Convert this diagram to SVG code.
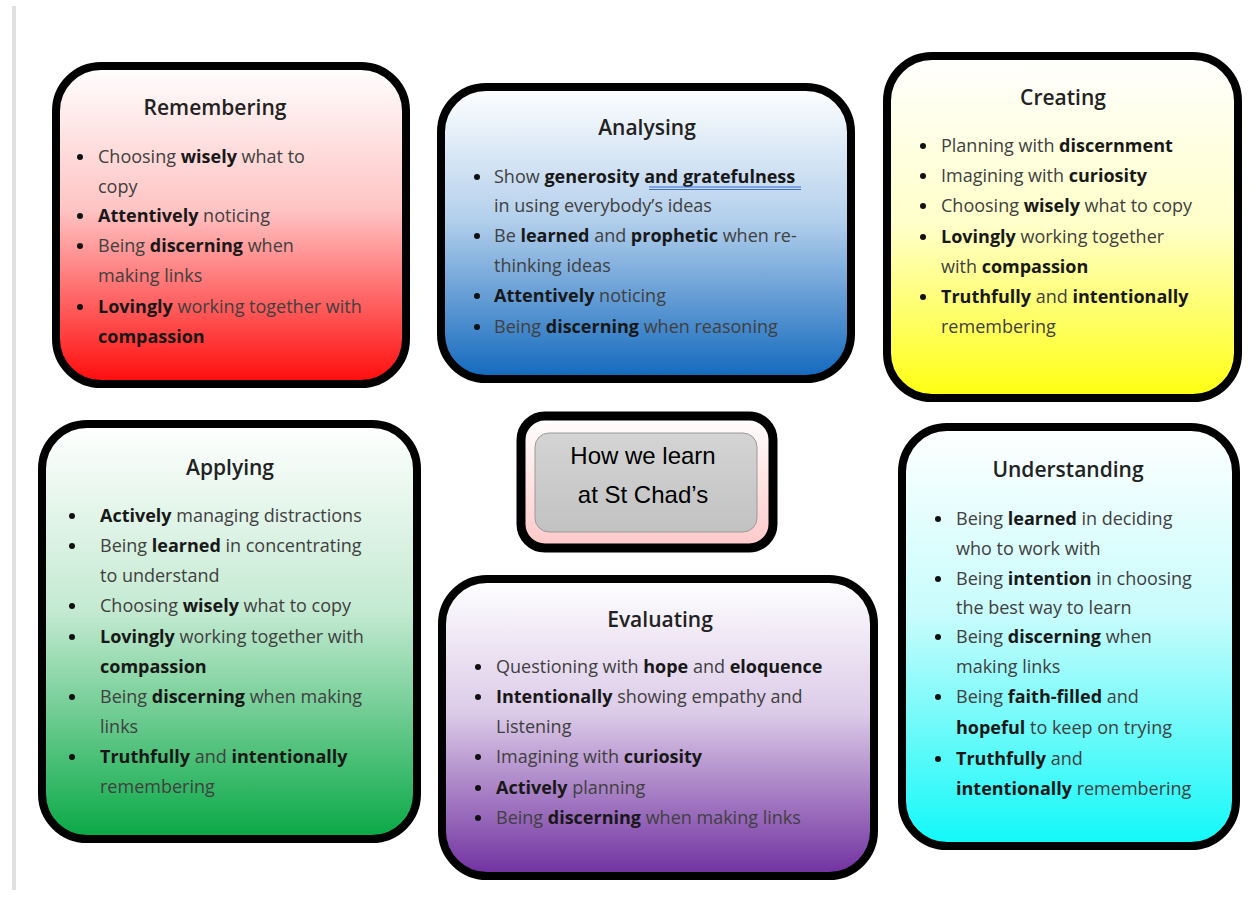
<svg xmlns="http://www.w3.org/2000/svg" width="1257" height="897" viewBox="0 0 1257 897">
<defs>
<linearGradient id="gRed" x1="0" y1="0" x2="0" y2="1"><stop offset="0" stop-color="#ffffff"/><stop offset="0.45" stop-color="#ffc4c4"/><stop offset="1" stop-color="#ff0a0a"/></linearGradient>
<linearGradient id="gBlue" x1="0" y1="0" x2="0" y2="1"><stop offset="0" stop-color="#ffffff"/><stop offset="0.45" stop-color="#b4d0ec"/><stop offset="1" stop-color="#1268bd"/></linearGradient>
<linearGradient id="gYellow" x1="0" y1="0" x2="0" y2="1"><stop offset="0" stop-color="#ffffff"/><stop offset="0.5" stop-color="#ffffc8"/><stop offset="1" stop-color="#ffff10"/></linearGradient>
<linearGradient id="gGreen" x1="0" y1="0" x2="0" y2="1"><stop offset="0" stop-color="#ffffff"/><stop offset="0.45" stop-color="#c4ead2"/><stop offset="1" stop-color="#08a845"/></linearGradient>
<linearGradient id="gPurple" x1="0" y1="0" x2="0" y2="1"><stop offset="0" stop-color="#ffffff"/><stop offset="0.45" stop-color="#dccbe8"/><stop offset="1" stop-color="#7030a0"/></linearGradient>
<linearGradient id="gCyan" x1="0" y1="0" x2="0" y2="1"><stop offset="0" stop-color="#ffffff"/><stop offset="0.45" stop-color="#c8fcfc"/><stop offset="1" stop-color="#10f8f8"/></linearGradient>
<linearGradient id="gPink" x1="0" y1="0" x2="0" y2="1"><stop offset="0" stop-color="#ffffff"/><stop offset="1" stop-color="#ffc8c8"/></linearGradient>
<linearGradient id="gGray" x1="0" y1="0" x2="0" y2="1"><stop offset="0" stop-color="#d4d4d4"/><stop offset="1" stop-color="#c2c2c2"/></linearGradient>
</defs>
<style>
.box{stroke:#000;stroke-width:8}
.t{font-family:"Open Sans","Noto Sans","DejaVu Sans",sans-serif;font-size:21px;fill:#222;text-anchor:middle;font-weight:600}
.b{font-family:"Open Sans","Noto Sans","DejaVu Sans",sans-serif;font-size:18px;fill:#404040}
.s{font-weight:700;fill:#181818}
.dot{fill:#111}
.c{font-family:"Liberation Sans","Open Sans",sans-serif;font-size:24px;fill:#000;text-anchor:middle}
</style>
<rect width="1257" height="897" fill="#ffffff"/>
<rect x="12" y="6" width="4" height="884" fill="#e0e0e0"/>
<g id="connectors"/>

<g id="remembering">
<rect class="box" x="56" y="66" width="350" height="318" rx="45" fill="url(#gRed)"/>
<text class="t" x="215" y="115">Remembering</text>
<circle class="dot" cx="80" cy="157" r="3"/><circle class="dot" cx="80" cy="216" r="3"/><circle class="dot" cx="80" cy="246" r="3"/><circle class="dot" cx="80" cy="307" r="3"/>
<text class="b" x="98" y="163">Choosing <tspan class="s">wisely</tspan> what to</text>
<text class="b" x="98" y="193">copy</text>
<text class="b" x="98" y="222"><tspan class="s">Attentively</tspan> noticing</text>
<text class="b" x="98" y="252">Being <tspan class="s">discerning</tspan> when</text>
<text class="b" x="98" y="282">making links</text>
<text class="b" x="98" y="313"><tspan class="s">Lovingly</tspan> working together with</text>
<text class="b" x="98" y="343"><tspan class="s">compassion</tspan></text>
</g>

<g id="analysing">
<rect class="box" x="441" y="87" width="410" height="292" rx="45" fill="url(#gBlue)"/>
<text class="t" x="647" y="135">Analysing</text>
<circle class="dot" cx="477" cy="177" r="3"/><circle class="dot" cx="477" cy="236" r="3"/><circle class="dot" cx="477" cy="296" r="3"/><circle class="dot" cx="477" cy="327" r="3"/>
<text class="b" x="494" y="183">Show <tspan class="s">generosity</tspan> <tspan class="s">and  gratefulness</tspan></text>
<line x1="649" y1="187" x2="801" y2="187" stroke="#3b6fd6" stroke-width="1.2"/>
<line x1="649" y1="189.5" x2="801" y2="189.5" stroke="#3b6fd6" stroke-width="1.2"/>
<text class="b" x="494" y="212">in using everybody’s ideas</text>
<text class="b" x="494" y="242">Be <tspan class="s">learned</tspan> and <tspan class="s">prophetic</tspan> when re-</text>
<text class="b" x="494" y="272">thinking ideas</text>
<text class="b" x="494" y="302"><tspan class="s">Attentively</tspan> noticing</text>
<text class="b" x="494" y="333">Being <tspan class="s">discerning</tspan> when reasoning</text>
</g>

<g id="creating">
<rect class="box" x="887" y="56" width="351" height="342" rx="45" fill="url(#gYellow)"/>
<text class="t" x="1063" y="105">Creating</text>
<circle class="dot" cx="923" cy="146" r="3"/><circle class="dot" cx="923" cy="176" r="3"/><circle class="dot" cx="923" cy="206" r="3"/><circle class="dot" cx="923" cy="237" r="3"/><circle class="dot" cx="923" cy="297" r="3"/>
<text class="b" x="941" y="152">Planning with <tspan class="s">discernment</tspan></text>
<text class="b" x="941" y="182">Imagining with <tspan class="s">curiosity</tspan></text>
<text class="b" x="941" y="212">Choosing <tspan class="s">wisely</tspan> what to copy</text>
<text class="b" x="941" y="243"><tspan class="s">Lovingly</tspan> working together</text>
<text class="b" x="941" y="273">with <tspan class="s">compassion</tspan></text>
<text class="b" x="941" y="303"><tspan class="s">Truthfully</tspan> and <tspan class="s">intentionally</tspan></text>
<text class="b" x="941" y="333">remembering</text>
</g>

<g id="applying">
<rect class="box" x="42" y="424" width="375" height="415" rx="45" fill="url(#gGreen)"/>
<text class="t" x="230" y="475">Applying</text>
<circle class="dot" cx="72" cy="516" r="3"/><circle class="dot" cx="72" cy="546" r="3"/><circle class="dot" cx="72" cy="606" r="3"/><circle class="dot" cx="72" cy="637" r="3"/><circle class="dot" cx="72" cy="697" r="3"/><circle class="dot" cx="72" cy="757" r="3"/>
<text class="b" x="100" y="522"><tspan class="s">Actively</tspan> managing distractions</text>
<text class="b" x="100" y="552">Being <tspan class="s">learned</tspan> in concentrating</text>
<text class="b" x="100" y="582">to understand</text>
<text class="b" x="100" y="612">Choosing <tspan class="s">wisely</tspan> what to copy</text>
<text class="b" x="100" y="643"><tspan class="s">Lovingly</tspan> working together with</text>
<text class="b" x="100" y="673"><tspan class="s">compassion</tspan></text>
<text class="b" x="100" y="703">Being <tspan class="s">discerning</tspan> when making</text>
<text class="b" x="100" y="733">links</text>
<text class="b" x="100" y="763"><tspan class="s">Truthfully</tspan> and <tspan class="s">intentionally</tspan></text>
<text class="b" x="100" y="793">remembering</text>
</g>

<g id="center">
<rect x="521" y="416" width="252" height="132" rx="24" fill="url(#gPink)" stroke="#000" stroke-width="9"/>
<rect x="535" y="433" width="222" height="99" rx="14" fill="url(#gGray)" stroke="#9a9a9a" stroke-width="1"/>
<text class="c" x="643" y="464">How we learn</text>
<text class="c" x="643" y="503">at St Chad’s</text>
</g>

<g id="evaluating">
<rect class="box" x="442" y="579" width="432" height="297" rx="45" fill="url(#gPurple)"/>
<text class="t" x="660" y="627">Evaluating</text>
<circle class="dot" cx="478" cy="667" r="3"/><circle class="dot" cx="478" cy="697" r="3"/><circle class="dot" cx="478" cy="757" r="3"/><circle class="dot" cx="478" cy="788" r="3"/><circle class="dot" cx="478" cy="818" r="3"/>
<text class="b" x="496" y="673">Questioning with <tspan class="s">hope</tspan> and <tspan class="s">eloquence</tspan></text>
<text class="b" x="496" y="703"><tspan class="s">Intentionally</tspan> showing empathy and</text>
<text class="b" x="496" y="733">Listening</text>
<text class="b" x="496" y="763">Imagining with <tspan class="s">curiosity</tspan></text>
<text class="b" x="496" y="794"><tspan class="s">Actively</tspan> planning</text>
<text class="b" x="496" y="824">Being <tspan class="s">discerning</tspan> when making links</text>
</g>

<g id="understanding">
<rect class="box" x="902" y="427" width="334" height="419" rx="45" fill="url(#gCyan)"/>
<text class="t" x="1068" y="477">Understanding</text>
<circle class="dot" cx="938" cy="519" r="3"/><circle class="dot" cx="938" cy="579" r="3"/><circle class="dot" cx="938" cy="637" r="3"/><circle class="dot" cx="938" cy="697" r="3"/><circle class="dot" cx="938" cy="759" r="3"/>
<text class="b" x="956" y="525">Being <tspan class="s">learned</tspan> in deciding</text>
<text class="b" x="956" y="555">who to work with</text>
<text class="b" x="956" y="585">Being <tspan class="s">intention</tspan> in choosing</text>
<text class="b" x="956" y="614">the best way to learn</text>
<text class="b" x="956" y="643">Being <tspan class="s">discerning</tspan> when</text>
<text class="b" x="956" y="673">making links</text>
<text class="b" x="956" y="703">Being <tspan class="s">faith-filled</tspan> and</text>
<text class="b" x="956" y="734"><tspan class="s">hopeful</tspan> to keep on trying</text>
<text class="b" x="956" y="765"><tspan class="s">Truthfully</tspan> and</text>
<text class="b" x="956" y="795"><tspan class="s">intentionally</tspan> remembering</text>
</g>
</svg>
